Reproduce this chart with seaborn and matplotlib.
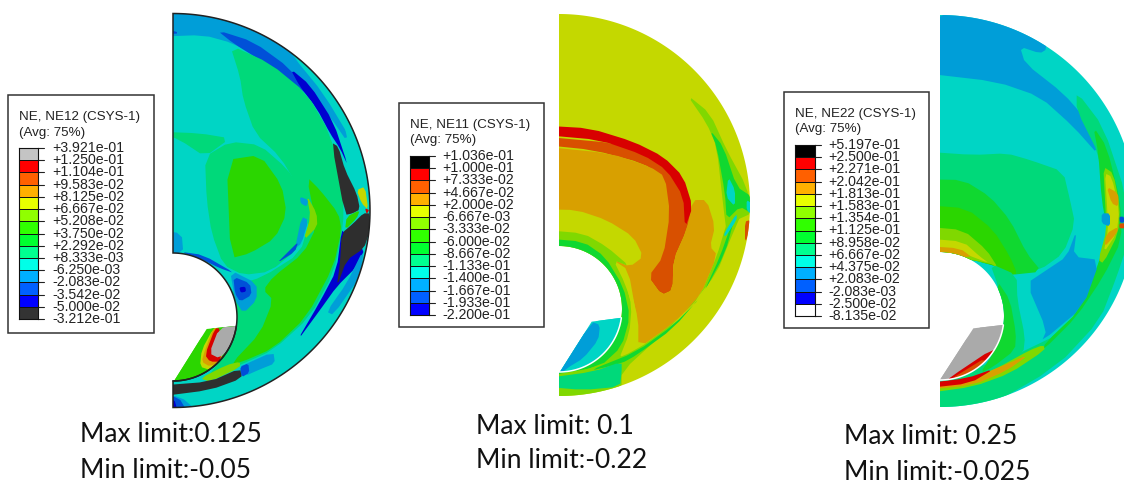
import numpy as np
import matplotlib
matplotlib.use("Agg")
import matplotlib.pyplot as plt
from matplotlib.colors import ListedColormap
from matplotlib.path import Path
from matplotlib.patches import PathPatch, Rectangle
import seaborn as sns

W, H = 1124, 484

# colours of the contour bands
TEAL = "#00d5c5"; GRN1 = "#00d97a"; GRN2 = "#2bd600"; BGRN = "#10d830"; SKY = "#009ed8"
ROYAL = "#0050d8"; NAVY = "#0000d0"; DARK = "#2e2e2e"; LIME = "#80d800"; YEL = "#c4d800"
ORG = "#d8a000"; DORG = "#d85000"; RED = "#d80000"; GRAY = "#aaaaaa"

# legends
title_12 = "NE, NE12 (CSYS-1)"
title_11 = "NE, NE11 (CSYS-1)"
title_22 = "NE, NE22 (CSYS-1)"
avg_label = "(Avg: 75%)"
levels_12 = ["+3.921e-01", "+1.250e-01", "+1.104e-01", "+9.583e-02", "+8.125e-02", "+6.667e-02",
             "+5.208e-02", "+3.750e-02", "+2.292e-02", "+8.333e-03", "-6.250e-03", "-2.083e-02",
             "-3.542e-02", "-5.000e-02", "-3.212e-01"]
levels_11 = ["+1.036e-01", "+1.000e-01", "+7.333e-02", "+4.667e-02", "+2.000e-02", "-6.667e-03",
             "-3.333e-02", "-6.000e-02", "-8.667e-02", "-1.133e-01", "-1.400e-01", "-1.667e-01",
             "-1.933e-01", "-2.200e-01"]
levels_22 = ["+5.197e-01", "+2.500e-01", "+2.271e-01", "+2.042e-01", "+1.813e-01", "+1.583e-01",
             "+1.354e-01", "+1.125e-01", "+8.958e-02", "+6.667e-02", "+4.375e-02", "+2.083e-02",
             "-2.083e-03", "-2.500e-02", "-8.135e-02"]
spectrum = ["#ff0000", "#ff6000", "#ffb000", "#e8ff00", "#90ff00", "#30ff00", "#00ff30",
            "#00ff90", "#00ffe8", "#00b0ff", "#0060ff", "#0000ff"]
colors_12 = ["#c4c4c4"] + spectrum + ["#333333"]
colors_11 = ["#000000"] + spectrum
colors_22 = ["#000000"] + spectrum + ["#ffffff"]
limits_12 = ["Max limit:0.125", "Min limit:-0.05"]
limits_11 = ["Max limit: 0.1", "Min limit:-0.22"]
limits_22 = ["Max limit: 0.25", "Min limit:-0.025"]

regions_12 = [
    (SKY, [(38,25),(220,25),(420,150),(480,230),(545,340),(565,430),(510,350),(430,262),(330,190),(220,130),(130,105),(38,110)]),
    (TEAL, [(330,60),(430,130),(530,250),(600,400),(630,520),(580,430),(490,280),(400,170)]),
    (ROYAL, [(170,90),(280,125),(390,205),(450,290),(400,250),(300,180),(220,130)]),
    (NAVY, [(390,205),(450,255),(520,365),(565,500),(540,445),(510,400),(470,325),(420,260)]),
    (GRN1, [(210,135),(330,190),(440,280),(510,400),(550,560),(550,680),(520,820),(450,950),(340,1050),(240,1095),(140,1135),(185,1075),(225,960),(215,860),(310,830),(420,760),(450,660),(420,570),(360,470),(285,400),(250,300),(240,230)]),
    (GRN2, [(440,530),(480,570),(535,640),(545,690),(520,800),(440,950),(340,1045),(240,1088),(215,1090),(300,1000),(340,900),(310,870),(340,830),(430,760),(470,680)]),
    (GRN1, [(135,470),(210,425),(300,435),(380,505),(425,570),(450,650),(415,745),(330,815),(250,825),(190,795),(155,700),(140,600)]),
    (GRN1, [(38,395),(120,400),(210,415),(135,470),(60,420)]),
    (GRN2, [(200,480),(300,465),(365,555),(380,640),(345,715),(270,760),(212,775)]),
    (LIME, [(440,585),(470,640),(472,680),(430,722),(452,650)]),
    (SKY, [(420,590),(445,600),(440,620),(422,610)]),
    (SKY, [(425,650),(445,660),(425,730),(405,745)]),
    (ROYAL, [(415,725),(405,755),(350,790),(385,755)]),
    (SKY, [(210,810),(290,850),(290,900),(250,940),(225,900)]),
    (ROYAL, [(220,830),(270,850),(275,885),(240,905),(225,880)]),
    (NAVY, [(238,862),(256,860),(258,875),(242,878)]),
    (ROYAL, [(60,755),(130,765),(225,820),(180,805),(120,775)]),
    (SKY, [(38,30),(70,30),(68,100),(38,100)]),
    (ROYAL, [(38,80),(65,100),(38,104)]),
    (SKY, [(38,690),(65,700),(70,760),(38,760)]),
    (DARK, [(515,428),(535,440),(555,510),(590,580),(600,628),(578,640),(555,645)]),
    (YEL, [(590,570),(615,560),(625,630),(605,610)]),
    (RED, [(615,625),(628,630),(620,642)]),
    (GRN2, [(560,650),(600,630),(590,655),(555,690)]),
    (NAVY, [(545,690),(555,700),(615,745),(590,800),(530,860),(480,930),(408,1028),(480,905),(530,810)]),
    (SKY, [(612,745),(600,830),(520,945),(500,935),(560,850)]),
    (DARK, [(545,700),(580,670),(610,640),(630,640),(627,700),(612,745),(560,780),(530,862),(540,790)]),
    (SKY, [(340,1055),(345,1090),(300,1108),(255,1128),(240,1100)]),
    (ROYAL, [(240,1100),(265,1090),(268,1118),(245,1132)]),
    (LIME, [(120,1135),(200,1095),(240,1085),(240,1102),(150,1145)]),
    (DARK, [(38,1157),(150,1145),(240,1105),(246,1135),(150,1170),(38,1190)]),
    (SKY, [(38,1190),(60,1188),(120,1240),(38,1240)]),
    (ROYAL, [(38,1192),(55,1190),(85,1240),(38,1240)]),
    (NAVY, [(38,1195),(42,1195),(55,1240),(38,1240)]),
]
wedge_12 = [
    (GRN2, [(0,1170),(140,985),(235,970),(240,1060),(130,1170)]),
    (YEL, [(120,1100),(125,1050),(160,985),(175,985),(190,1080),(150,1110)]),
    (ORG, [(125,1085),(135,1050),(160,985),(175,985),(190,1080),(150,1100)]),
    (RED, [(135,1065),(165,985),(180,985),(185,1085),(150,1085)]),
    (GRAY, [(177,985),(240,970),(215,1040),(178,1075),(148,1060)]),
]
regions_11 = [
    (DORG, [(27,410),(200,430),(330,470),(400,560),(428,620),(410,690),(370,780),(368,870),(335,885),(295,830),(330,770),(350,640),(335,530),(280,490),(130,450),(27,435)]),
    (ORG, [(27,440),(180,460),(300,500),(345,530),(360,640),(340,770),(295,830),(335,885),(368,870),(370,780),(410,690),(428,600),(470,600),(495,680),(480,740),(502,765),(450,890),(370,970),(265,1045),(260,950),(235,810),(190,780),(240,800),(280,770),(250,710),(170,660),(80,630),(27,628)]),
    (RED, [(27,377),(120,385),(250,425),(340,470),(400,530),(428,620),(405,685),(400,590),(350,510),(280,465),(150,420),(27,405)]),
    (LIME, [(27,690),(100,700),(170,740),(240,800),(190,780),(225,850),(258,950),(265,1040),(190,1090),(120,1130),(27,1130),(27,738)]),
    (YEL, [(205,795),(240,860),(265,960),(265,1042),(205,1082),(238,1000),(245,920),(228,850)]),
    (BGRN, [(27,715),(100,725),(165,770),(220,860),(240,950),(215,1040),(150,1100),(27,1130),(27,738)]),
    (LIME, [(27,1130),(130,1105),(260,1050),(370,970),(450,890),(500,770),(530,670),(560,600),(575,640),(540,720),(500,820),(420,920),(340,1000),(215,1115),(215,1165),(110,1190),(27,1200)]),
    (BGRN, [(110,1115),(260,1055),(370,975),(455,890),(510,770),(545,670),(555,650),(525,760),(460,880),(370,985),(260,1065),(215,1090)]),
    (GRN1, [(27,1135),(130,1115),(215,1085),(215,1115),(210,1160),(100,1170),(27,1160)]),
    (LIME, [(410,283),(480,340),(530,450),(590,560),(605,640),(560,660),(530,700),(520,620),(500,440),(470,370)]),
    (BGRN, [(480,390),(520,440),(560,560),(605,590),(605,640),(570,620),(530,660),(525,580),(500,440)]),
    (TEAL, [(535,530),(555,570),(555,620),(528,590)]),
    (TEAL, [(522,700),(560,640),(560,660),(525,712)]),
    (TEAL, [(590,600),(605,610),(605,645),(590,630)]),
    (DORG, [(585,665),(600,660),(600,690),(585,730)]),
]
wedge_11 = [
    (TEAL, [(0,1150),(125,965),(225,945),(240,1050),(130,1150)]),
    (SKY, [(0,1150),(125,965),(150,975),(145,1020),(100,1075),(50,1105)]),
]
regions_22 = [
    (SKY, [(30,35),(360,35),(350,148),(330,160),(270,140),(285,190),(400,280),(470,360),(510,470),(430,380),(330,290),(200,245),(30,220)]),
    (GRN1, [(30,1155),(340,1035),(450,930),(510,780),(540,690),(520,600),(510,470),(440,330),(440,275),(520,380),(590,590),(590,740),(560,830),(510,960),(380,1100),(130,1245),(30,1245)]),
    (BGRN, [(345,1030),(450,930),(510,780),(532,690),(515,600),(505,460),(490,380),(530,440),(570,600),(575,720),(520,830),(440,950),(340,1050)]),
    (LIME, [(520,500),(550,520),(570,620),(565,700),(520,790),(505,780),(530,690),(525,600)]),
    (YEL, [(525,520),(545,530),(568,630),(560,700),(520,760),(535,690),(530,600)]),
    (ORG, [(530,560),(565,580),(565,620),(545,610)]),
    (ORG, [(530,700),(565,680),(560,700),(522,742)]),
    (DORG, [(568,670),(590,670),(590,685),(568,685)]),
    (ROYAL, [(568,650),(582,650),(582,668),(570,668)]),
    (GRN1, [(30,455),(130,465),(230,460),(300,480),(400,515),(420,600),(435,670),(400,760),(330,810),(240,825),(180,790),(130,770),(30,755)]),
    (BGRN, [(30,538),(100,540),(180,590),(240,660),(290,760),(335,815),(240,825),(180,790),(30,755)]),
    (GRN2, [(30,615),(110,625),(190,690),(240,770),(262,822),(240,825),(180,790),(30,755)]),
    (LIME, [(30,680),(100,690),(170,750),(205,805),(180,790),(30,755)]),
    (YEL, [(30,715),(100,725),(150,770),(178,790),(100,760),(30,755)]),
    (ORG, [(30,738),(90,745),(130,775),(30,760)]),
    (SKY, [(350,810),(290,850),(350,990),(335,1025),(460,920),(510,780),(430,770),(440,690),(410,770)]),
    (SKY, [(515,640),(540,640),(540,680),(515,670)]),
    (GRN1, [(180,790),(260,825),(262,900),(285,1010),(280,1060),(200,1110),(150,1120),(190,1060),(215,950),(205,860)]),
    (BGRN, [(200,840),(240,900),(258,1000),(255,1050),(190,1100),(150,1120),(190,1060),(215,950)]),
    (LIME, [(340,1035),(300,1050),(200,1105),(110,1145),(30,1150),(30,1180),(130,1160),(240,1120),(345,1050)]),
    (ORG, [(300,1062),(200,1105),(110,1140),(30,1150),(30,1170),(130,1155),(230,1112)]),
    (RED, [(195,1105),(110,1135),(30,1150),(30,1165),(120,1150)]),
]
wedge_22 = [
    (GRAY, [(0,1160),(130,985),(235,965),(235,1060),(120,1160)]),
    (RED, [(190,1045),(195,1070),(110,1125),(50,1145),(60,1132)]),
    (DORG, [(50,1145),(180,1065),(130,1145)]),
]

sns.set_theme(style="white")
plt.rcParams["font.family"] = ["Liberation Sans", "DejaVu Sans"]
fig = plt.figure(figsize=(W / 100, H / 100), dpi=100, facecolor="white")
ax = fig.add_axes([0, 0, 1, 1])
ax.set_xlim(0, W)
ax.set_ylim(H, 0)
ax.axis("off")


def smooth(pts, edge):
    p = np.array(pts, float)
    p[p[:, 0] <= edge + 1, 0] = edge - 45
    q = np.roll(p, -1, axis=0)
    return np.column_stack([0.8 * p + 0.2 * q, 0.2 * p + 0.8 * q]).reshape(-1, 2)


def panel(ox, oy, xs, cy, r, hcy, hr, base, regions, wedge_corners, wedge, outline=None, arc_color="k"):
    to_px = lambda p: np.column_stack([ox + p[:, 0] / 3, oy + p[:, 1] / 3])
    edge = (xs - ox) * 3
    a = np.radians(np.linspace(90, -90, 200))
    outer = np.column_stack([xs + r * np.cos(a), cy - r * np.sin(a)])
    b = np.radians(np.linspace(-90, 90, 100))
    inner = np.column_stack([xs + hr * np.cos(b), hcy - hr * np.sin(b)])
    body = Path(np.vstack([outer, inner, outer[:1]]), closed=True)
    bp = PathPatch(body, fc=base, ec="none", zorder=1)
    ax.add_patch(bp)
    for c, pts in regions:
        poly, = ax.fill(*to_px(smooth(pts, edge)).T, color=c, lw=0, zorder=2)
        poly.set_clip_path(bp)
    # piece inside the hole
    c2 = np.radians(np.linspace(-90, -8, 50))
    arc = np.column_stack([xs + hr * np.cos(c2), hcy - hr * np.sin(c2)])
    corner = to_px(np.array(wedge_corners, float))
    wp = PathPatch(Path(np.vstack([arc, corner, arc[:1]]), closed=True), fc=wedge[0][0], ec="none", zorder=3)
    ax.add_patch(wp)
    for c, pts in wedge:
        poly, = ax.fill(*to_px(smooth(pts, -999)).T, color=c, lw=0, zorder=4)
        poly.set_clip_path(wp)
    ax.plot(*arc.T, color=arc_color, lw=1.1, zorder=5)
    if outline:
        ax.add_patch(PathPatch(body, fc="none", ec=outline, lw=1.1, zorder=6))


panel(160, 0, 173, 210.5, 197, 317, 64, TEAL, regions_12, [(140,987),(39,1148)], wedge_12, outline="#222222")
panel(550, 0, 559, 205, 191, 309, 63, YEL, regions_11, [(125,965),(27,1120)], wedge_11, arc_color="white")
panel(930, 0, 940, 211, 196, 316, 64, TEAL, regions_22, [(130,985),(31,1138)], wedge_22, arc_color="white")


def legend(box, title_xy, bar, labels, colors, title, label_x):
    x0, y0, x1, y1 = box
    ax.add_patch(Rectangle((x0, y0), x1 - x0, y1 - y0, fc="white", ec="#333333", lw=1.1, zorder=7))
    ax.text(title_xy[0], title_xy[1], title, fontsize=9.6, color="#222222", va="center", zorder=8)
    ax.text(title_xy[0], title_xy[2], avg_label, fontsize=9.6, color="#222222", va="center", zorder=8)
    bx0, by0, bx1, by1 = bar
    cax = fig.add_axes([bx0 / W, 1 - by1 / H, (bx1 - bx0) / W, (by1 - by0) / H], zorder=9)
    grid = np.arange(len(colors)).reshape(-1, 1)
    sns.heatmap(grid, ax=cax, cmap=ListedColormap(colors), cbar=False, xticklabels=False,
                yticklabels=False, linewidths=0.5, linecolor="#111111", vmin=-0.5, vmax=len(colors) - 0.5)
    for s in cax.spines.values():
        s.set_visible(True)
        s.set_color("#111111")
        s.set_linewidth(0.8)
    ys = np.linspace(by0, by1, len(labels))
    for y, lab in zip(ys, labels):
        ax.plot([bx1, bx1 + 6], [y, y], color="#222222", lw=0.8, zorder=8)
        ax.text(label_x, y, lab, fontsize=10.2, color="#222222", va="center", zorder=8)


legend((8, 95, 154, 333), (19, 117, 133), (19, 148, 38, 319), levels_12, colors_12, title_12, 52)
legend((399, 103, 544, 327), (410, 125, 140), (410, 156, 429, 315), levels_11, colors_11, title_11, 442)
legend((784, 92, 929, 328), (795, 114, 129), (795, 145, 815, 316), levels_22, colors_22, title_22, 828)

for x, ys, texts in [(80, (435, 470), limits_12), (476, (426, 461), limits_11), (844, (437, 472), limits_22)]:
    for y, t in zip(ys, texts):
        ax.text(x, y, t, fontsize=19, family=["Lato", "DejaVu Sans"], color="#111111", va="center")

fig.savefig("out.png", dpi=100)
